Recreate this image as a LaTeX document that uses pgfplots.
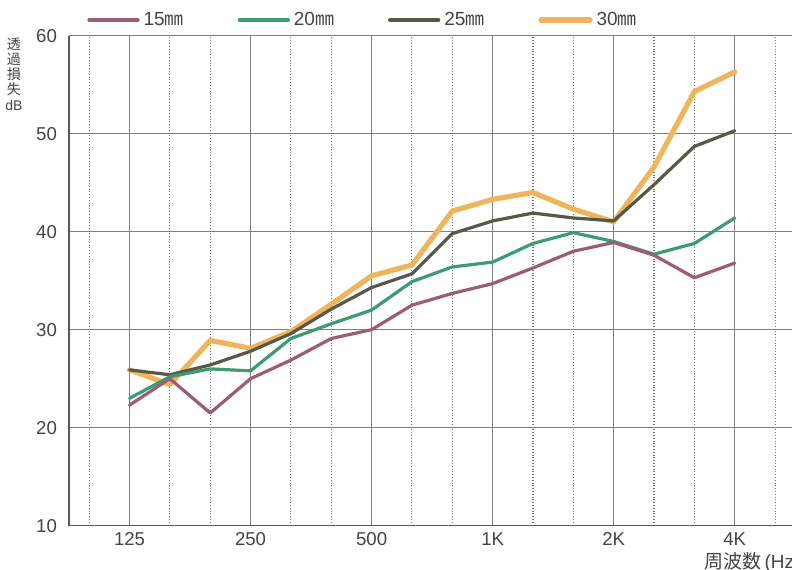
\documentclass[border=0pt]{standalone}
\usepackage{fontspec}
\setmainfont{Liberation Sans}
\newfontfamily\jp{Noto Sans CJK JP}
\usepackage{pgfplots}
\pgfplotsset{compat=1.18}

\definecolor{c15}{HTML}{9C5C78}
\definecolor{c20}{HTML}{3C9B73}
\definecolor{c25}{HTML}{55594A}
\definecolor{c30}{HTML}{EFB45C}
\definecolor{txt}{HTML}{444444}

\begin{document}
\begin{tikzpicture}
\begin{axis}[
  scale only axis, width=361.5pt, height=245pt,
  xmin=-0.5, xmax=17.42, ymin=10, ymax=60,
  axis x line*=bottom, axis y line*=left,
  axis line style={draw=black!65, line width=0.8pt},
  xtick={1,4,7,10,13,16}, xticklabels={125,250,500,1K,2K,4K},
  minor xtick={0,2,3,5,6,8,9,11,12,14,15,17},
  ytick={10,20,...,60},
  major tick length=0pt, minor tick length=0pt,
  xmajorgrids, xminorgrids, ymajorgrids,
  major grid style={draw=black!50, line width=0.6pt},
  minor grid style={draw=black!55, line width=0.55pt, dash pattern=on 0.5pt off 0.9pt},
  tick label style={font=\fontsize{9.3}{10}\selectfont, text=txt},
  /pgf/number format/assume math mode=true,
  yticklabel style={xshift=-2.5pt},
  legend style={at={(0,1)}, anchor=west, xshift=9pt, yshift=7.85pt,
    draw=none, fill=none, inner sep=0pt, legend columns=4,
    font=\fontsize{9.5}{10}\selectfont, text=txt,
    /tikz/every even column/.append style={column sep=25pt}},
  legend image code/.code={\draw[#1] (0pt,0pt) -- (24.5pt,0pt);},
  reverse legend,
  every axis plot/.append style={line join=round, line cap=round},
]
% 30mm
\addplot[c30, line width=2.6pt] coordinates {
  (1,25.9) (2,24.4) (3,28.9) (4,28.1) (5,29.8) (6,32.6) (7,35.5) (8,36.6)
  (9,42.1) (10,43.3) (11,44.0) (12,42.3) (13,41.0) (14,46.6) (15,54.3) (16,56.3)};
\addlegendentry{30{\jp ㎜}}
% 25mm
\addplot[c25, line width=1.6pt] coordinates {
  (1,25.9) (2,25.4) (3,26.4) (4,27.8) (5,29.6) (6,32.1) (7,34.3) (8,35.7)
  (9,39.8) (10,41.1) (11,41.9) (12,41.4) (13,41.1) (14,44.8) (15,48.7) (16,50.3)};
\addlegendentry{25{\jp ㎜}}
% 20mm
\addplot[c20, line width=1.6pt] coordinates {
  (1,23.0) (2,25.2) (3,26.0) (4,25.8) (5,29.1) (6,30.6) (7,32.0) (8,34.9)
  (9,36.4) (10,36.9) (11,38.8) (12,39.9) (13,39.0) (14,37.7) (15,38.8) (16,41.4)};
\addlegendentry{20{\jp ㎜}}
% 15mm
\addplot[c15, line width=1.6pt] coordinates {
  (1,22.3) (2,25.0) (3,21.5) (4,25.0) (5,26.9) (6,29.1) (7,30.0) (8,32.5)
  (9,33.7) (10,34.7) (11,36.3) (12,38.0) (13,38.9) (14,37.6) (15,35.3) (16,36.8)};
\addlegendentry{15{\jp ㎜}}

\coordinate (bbsw) at (rel axis cs:0,0);
\coordinate (bbne) at (rel axis cs:1,1);
\end{axis}
% axis titles, placed outside the clipped plot area
\node[anchor=north, inner sep=0pt, align=center, text=txt,
  font=\jp\fontsize{7}{7.6}\selectfont] at ([xshift=-27.5pt,yshift=-0.8pt]bbsw |- bbne)
  {透\\過\\損\\失\\{\rmfamily dB}};
\node[anchor=west, inner sep=0pt, text=txt, font=\fontsize{9.5}{11}\selectfont]
  at ([xshift=317.5pt,yshift=-18.15pt]bbsw) {{\jp 周波数}\,(Hz};
\pgfresetboundingbox
\path[use as bounding box] ([xshift=-34.5pt,yshift=-22.15pt]bbsw) rectangle ([yshift=17.85pt]bbne);
\end{tikzpicture}
\end{document}
